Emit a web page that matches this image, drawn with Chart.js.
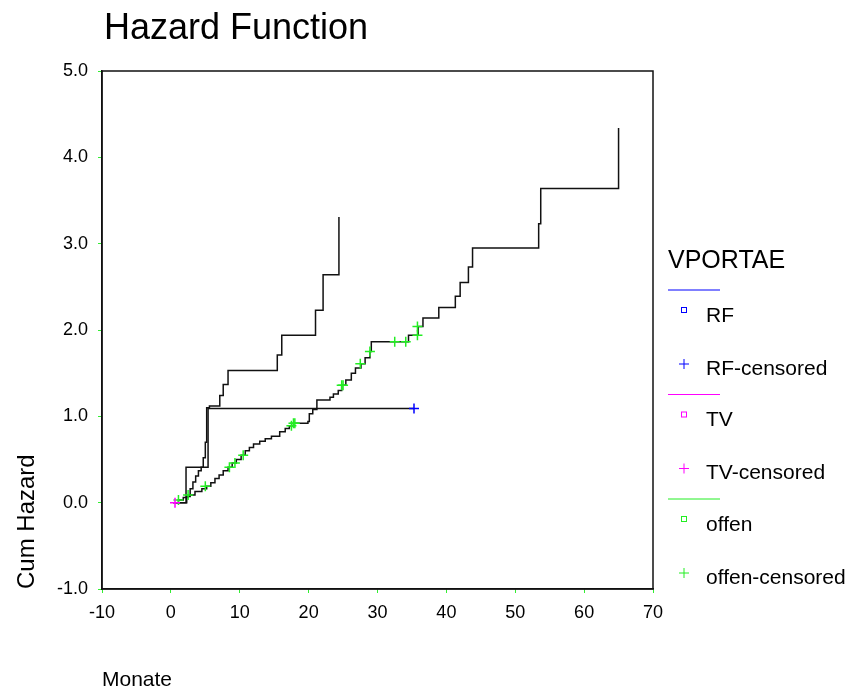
<!DOCTYPE html>
<html>
<head>
<meta charset="utf-8">
<script src="https://cdn.jsdelivr.net/npm/chart.js@4.4.1/dist/chart.umd.min.js"></script>
<style>
  html, body { margin: 0; padding: 0; background: #fff; }
</style>
</head>
<body>
<canvas id="hazard" width="852" height="688"></canvas>
<script>
const xTicks = [-10, 0, 10, 20, 30, 40, 50, 60, 70];
const yTicks = [-1, 0, 1, 2, 3, 4, 5];

// step curves: time (Monate) and cumulative hazard
const rfTime = [1.0, 2.2, 5.4, 35.3];
const rfHaz = [0, 0.41, 1.09, 1.09];

const tvTime = [0.6, 2.3, 2.8, 3.2, 3.6, 4.0, 4.4, 4.7, 5.0, 5.2, 5.6, 7.1, 7.6, 8.3, 15.45, 16.1, 21.0, 22.1, 24.4];
const tvHaz = [0, 0.07, 0.16, 0.24, 0.31, 0.37, 0.41, 0.52, 0.70, 1.10, 1.12, 1.24, 1.37, 1.53, 1.71, 1.94, 2.23, 2.64, 3.31];

const offenTime = [0.3, 1.1, 1.8, 2.5, 3.5, 4.5, 5.2, 5.8, 6.4, 7.0, 7.6, 8.3, 8.9, 9.5, 10.2, 10.8, 11.4, 12.0, 12.9, 13.7, 14.6, 15.8, 16.6, 17.2, 17.8, 19.9, 20.1, 20.6, 21.2, 23.1, 23.6, 24.3, 24.8, 25.4, 26.2, 26.8, 27.6, 28.2, 28.9, 29.1, 34.5, 35.9, 36.6, 38.9, 41.3, 42.0, 43.2, 43.8, 53.4, 53.7, 65.0];
const offenHaz = [0, 0.03, 0.06, 0.09, 0.13, 0.16, 0.19, 0.23, 0.28, 0.32, 0.37, 0.41, 0.46, 0.50, 0.55, 0.60, 0.64, 0.68, 0.71, 0.74, 0.77, 0.82, 0.86, 0.89, 0.92, 0.94, 1.03, 1.08, 1.19, 1.22, 1.26, 1.30, 1.36, 1.42, 1.50, 1.56, 1.61, 1.68, 1.75, 1.865, 1.94, 2.04, 2.14, 2.26, 2.39, 2.55, 2.73, 2.95, 3.23, 3.64, 4.34];

// censored observations
const rfCensTime = [35.3];
const rfCensHaz = [1.09];
const tvCensTime = [0.6];
const tvCensHaz = [0];
const offenCensTime = [1.1, 2.5, 5.0, 8.5, 9.3, 10.5, 17.5, 17.8, 18.0, 24.8, 25.0, 27.5, 28.9, 32.5, 34.1, 35.8, 35.8];
const offenCensHaz = [0.03, 0.09, 0.19, 0.41, 0.46, 0.55, 0.89, 0.92, 0.92, 1.36, 1.36, 1.61, 1.75, 1.865, 1.865, 1.94, 2.04];

const groups = [
  { name: "RF", color: "#0000ff" },
  { name: "TV", color: "#ff00ff" },
  { name: "offen", color: "#22ee22" },
];

const pts = (xs, ys) => xs.map((x, i) => ({ x: x, y: ys[i] }));
const fontFamily = "'Liberation Sans', Arial, sans-serif";

function stepLine(xs, ys) {
  return {
    data: pts(xs, ys),
    showLine: true,
    stepped: true,
    borderColor: "#111",
    borderWidth: 1.5,
    pointRadius: 0,
    order: 2,
  };
}

function censored(xs, ys, color) {
  return {
    data: pts(xs, ys),
    showLine: false,
    pointStyle: "cross",
    pointRadius: 5,
    pointBorderWidth: 1.5,
    borderColor: color,
    backgroundColor: color,
    order: 1,
  };
}

const decor = {
  id: "decor",
  afterDraw(chart) {
    const ctx = chart.ctx;
    const a = chart.chartArea;
    ctx.save();
    // frame
    ctx.strokeStyle = "#111";
    ctx.lineWidth = 1.5;
    ctx.strokeRect(a.left, a.top, a.right - a.left, a.bottom - a.top);

    // title
    ctx.fillStyle = "#000";
    ctx.textBaseline = "alphabetic";
    ctx.textAlign = "left";
    ctx.font = "36px " + fontFamily;
    ctx.fillText("Hazard Function", 104, 39);

    // legend
    ctx.font = "25px " + fontFamily;
    ctx.textBaseline = "middle";
    ctx.fillText("VPORTAE", 668, 261);
    ctx.font = "21px " + fontFamily;
    groups.forEach((g, i) => {
      const y0 = 290 + i * 104.5;
      ctx.strokeStyle = g.color;
      ctx.lineWidth = 1;
      ctx.beginPath();
      ctx.moveTo(668, y0);
      ctx.lineTo(720, y0);
      ctx.stroke();
      // square marker
      ctx.strokeRect(681.5, y0 + 17.5, 5, 5);
      ctx.fillStyle = "#000";
      ctx.fillText(g.name, 706, y0 + 26);
      // cross marker
      ctx.beginPath();
      ctx.moveTo(684, y0 + 69);
      ctx.lineTo(684, y0 + 79);
      ctx.moveTo(679, y0 + 74);
      ctx.lineTo(689, y0 + 74);
      ctx.stroke();
      ctx.fillText(g.name + "-censored", 706, y0 + 79);
    });
    ctx.restore();
  },
};

const ctxHazard = document.getElementById("hazard").getContext("2d");
const chartHazard = new Chart(ctxHazard, {
  type: "scatter",
  data: {
    datasets: [
      stepLine(rfTime, rfHaz),
      stepLine(tvTime, tvHaz),
      stepLine(offenTime, offenHaz),
      censored(rfCensTime, rfCensHaz, groups[0].color),
      censored(tvCensTime, tvCensHaz, groups[1].color),
      censored(offenCensTime, offenCensHaz, groups[2].color),
    ],
  },
  options: {
    responsive: false,
    animation: false,
    devicePixelRatio: 1,
    layout: {
      padding: { top: 71, right: 199, bottom: 0, left: 0 },
    },
    plugins: {
      legend: { display: false },
      title: { display: false },
      tooltip: { enabled: false },
    },
    scales: {
      x: {
        type: "linear",
        min: -10,
        max: 70,
        afterBuildTicks: (s) => { s.ticks = xTicks.map((v) => ({ value: v })); },
        afterFit: (s) => { s.height = 99; },
        border: { display: true, color: "#111", width: 1.5 },
        grid: { drawOnChartArea: false, drawTicks: true, tickLength: 4, color: "#33ee33" },
        ticks: {
          color: "#000",
          padding: 9,
          maxRotation: 0,
          font: { family: fontFamily, size: 18 },
        },
        title: {
          display: true,
          text: "Monate",
          align: "start",
          color: "#000",
          padding: { top: 0, bottom: -5 },
          font: { family: fontFamily, size: 21 },
        },
      },
      y: {
        type: "linear",
        min: -1,
        max: 5,
        afterBuildTicks: (s) => { s.ticks = yTicks.map((v) => ({ value: v })); },
        afterFit: (s) => { s.width = 102; },
        border: { display: true, color: "#111", width: 1.5 },
        grid: { drawOnChartArea: false, drawTicks: true, tickLength: 4, color: "#33ee33" },
        ticks: {
          color: "#000",
          padding: 10,
          callback: (v) => Number(v).toFixed(1),
          font: { family: fontFamily, size: 18 },
        },
        title: {
          display: true,
          text: "Cum Hazard",
          align: "start",
          color: "#000",
          padding: { top: 13, bottom: 0 },
          font: { family: fontFamily, size: 24 },
        },
      },
    },
  },
  plugins: [decor],
});
</script>
</body>
</html>
